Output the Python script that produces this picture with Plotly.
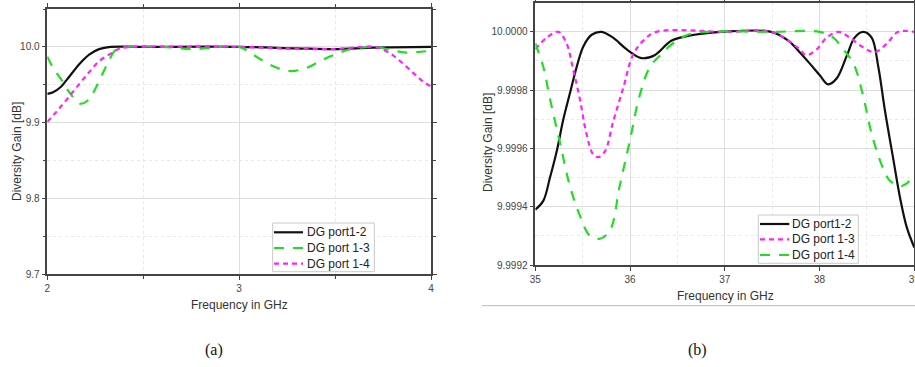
import plotly.graph_objects as go

# ---------------- data: panel (a) ----------------
fa_12 = [2.0, 2.03, 2.07, 2.10, 2.17, 2.22, 2.27, 2.33, 2.5, 3.0, 3.3, 3.5, 3.7, 4.0]
dg_a_12 = [9.938, 9.940, 9.947, 9.956, 9.978, 9.990, 9.997, 10.0, 10.0, 10.0, 9.998, 9.997, 9.999, 10.0]

fa_13 = [2.0, 2.031, 2.075, 2.118, 2.17, 2.214, 2.257, 2.31, 2.36, 2.41, 2.6, 2.76, 2.9, 3.0,
         3.09, 3.18, 3.265, 3.35, 3.42, 3.49, 3.58, 3.70, 3.79, 3.87, 4.0]
dg_a_13 = [9.987, 9.972, 9.956, 9.939, 9.925, 9.930, 9.948, 9.976, 9.997, 10.0, 10.0, 9.997, 10.0, 10.0,
           9.987, 9.974, 9.968, 9.972, 9.981, 9.989, 9.997, 10.0, 9.996, 9.9925, 9.995]

fa_14 = [2.0, 2.05, 2.10, 2.17, 2.22, 2.27, 2.33, 2.38, 2.45, 2.8, 3.0, 3.23, 3.49, 3.70,
         3.77, 3.84, 3.91, 3.96, 4.0]
dg_a_14 = [9.901, 9.915, 9.930, 9.952, 9.967, 9.981, 9.991, 9.998, 10.0, 10.0, 10.0, 9.998, 9.997, 10.0,
           9.994, 9.981, 9.965, 9.954, 9.948]

# ---------------- data: panel (b) ----------------
fb_12 = [35.0, 35.084, 35.155, 35.226, 35.296, 35.366, 35.437, 35.507, 35.595, 35.70, 35.82,
         35.965, 36.12, 36.26, 36.44, 36.68, 36.97, 37.49, 37.67, 37.79, 37.90, 38.005, 38.09,
         38.18, 38.29, 38.37, 38.46, 38.55, 38.62, 38.69, 38.78, 38.85, 38.92, 39.0]
dg_b_12 = [9.99939, 9.99942, 9.99950, 9.99959, 9.99970, 9.99979, 9.99988, 9.99995, 9.99999, 10.0,
           9.99998, 9.99994, 9.99991, 9.99992, 9.99997, 9.99999, 10.0, 10.0, 9.99997, 9.99993,
           9.99989, 9.99985, 9.99982, 9.99984, 9.99992, 9.99998, 10.0, 9.99998, 9.99988, 9.99973,
           9.99956, 9.99943, 9.99933, 9.99926]

fb_13 = [35.0, 35.12, 35.243, 35.33, 35.40, 35.47, 35.54, 35.61, 35.665, 35.735, 35.82, 35.93,
         36.03, 36.14, 36.28, 37.0, 37.49, 37.67, 37.79, 37.86, 37.97, 38.075, 38.2, 38.32,
         38.445, 38.585, 38.71, 38.83, 39.0]
dg_b_13 = [9.99994, 9.99998, 10.0, 9.99996, 9.99987, 9.99977, 9.99965, 9.99958, 9.99957, 9.99959,
           9.99969, 9.99981, 9.99992, 9.99997, 10.0, 10.0, 10.0, 9.99997, 9.99994, 9.99992,
           9.99994, 9.99998, 10.0, 9.99998, 9.99995, 9.99993, 9.99996, 10.0, 10.0]

fb_14 = [35.0, 35.084, 35.155, 35.26, 35.366, 35.47, 35.577, 35.683, 35.79, 35.89, 36.0, 36.10,
         36.21, 36.32, 36.45, 36.61, 36.79, 37.5, 38.0, 38.145, 38.25, 38.36, 38.46, 38.55,
         38.66, 38.74, 38.85, 38.92, 39.0]
dg_b_14 = [9.99996, 9.99988, 9.99977, 9.99962, 9.99947, 9.99937, 9.99930, 9.99929, 9.99932,
           9.99947, 9.99963, 9.99978, 9.99988, 9.99992, 9.99996, 9.99999, 10.0, 10.0, 10.0,
           9.99998, 9.99994, 9.99989, 9.99978, 9.99965, 9.99954, 9.99949, 9.99947, 9.99948,
           9.99951]

names_a = ["DG port1-2", "DG port 1-3", "DG port 1-4"]
names_b = ["DG port1-2", "DG port 1-3", "DG port 1-4"]
ticks_a_x = [2, 3, 4]
ticks_a_y = [9.7, 9.8, 9.9, 10.0]
ticks_b_x = [35, 36, 37, 38, 39]
ticks_b_y = [9.9992, 9.9994, 9.9996, 9.9998, 10.0]
captions = ["(a)", "(b)"]
x_title = "Frequency in GHz"
y_title = "Diversity Gain [dB]"

BLACK = "#111111"
GREEN = "#22dd22"
MAGENTA = "#ff22ff"
DASH_G = "10px,9px"
DASH_M = "5px,4px"
FONT = "Liberation Sans, Arial, sans-serif"

fig = go.Figure()

def add(x, y, name, color, dash, xa, ya):
    fig.add_trace(go.Scatter(
        x=x, y=y, name=name, mode="lines", showlegend=False,
        line=dict(color=color, width=2.2, dash=dash, shape="spline", smoothing=1.0),
        xaxis=xa, yaxis=ya))

styles_a = [(BLACK, "solid"), (GREEN, DASH_G), (MAGENTA, DASH_M)]
styles_b = [(BLACK, "solid"), (MAGENTA, DASH_M), (GREEN, DASH_G)]

add(fa_12, dg_a_12, names_a[0], *styles_a[0], "x", "y")
add(fa_13, dg_a_13, names_a[1], *styles_a[1], "x", "y")
add(fa_14, dg_a_14, names_a[2], *styles_a[2], "x", "y")

add(fb_12, dg_b_12, names_b[0], *styles_b[0], "x2", "y2")
add(fb_13, dg_b_13, names_b[1], *styles_b[1], "x2", "y2")
add(fb_14, dg_b_14, names_b[2], *styles_b[2], "x2", "y2")

W, H = 915, 367

def axis_common():
    return dict(
        showline=True, linecolor="#444444", linewidth=1.5, mirror="ticks",
        ticks="outside", ticklen=4, tickcolor="#444444", tickwidth=1,
        showgrid=True, gridcolor="#dddddd", gridwidth=1,
        zeroline=False, automargin=False,
        tickfont=dict(family=FONT, size=10, color="#444444"),
    )

fig.update_layout(
    width=W, height=H,
    margin=dict(l=0, r=0, t=0, b=0, autoexpand=False),
    paper_bgcolor="white", plot_bgcolor="white",
    showlegend=False,
    xaxis=dict(**axis_common(), domain=[47.3 / W, 431 / W], range=[2, 4],
               tickvals=ticks_a_x, ticktext=[str(v) for v in ticks_a_x],
               minor=dict(dtick=0.5, tick0=2, showgrid=True, gridcolor="#e8e8e8",
                          griddash="dot", ticks="outside", ticklen=3, tickcolor="#444444"),
               anchor="y"),
    yaxis=dict(**axis_common(), domain=[(H - 274) / H, (H - 9) / H], range=[9.7, 10.05],
               tickvals=ticks_a_y, ticktext=["%.1f" % v for v in ticks_a_y],
               minor=dict(dtick=0.05, tick0=9.7, showgrid=True, gridcolor="#e8e8e8",
                          griddash="dot", ticks="outside", ticklen=3, tickcolor="#444444"),
               anchor="x"),
    xaxis2=dict(**axis_common(), domain=[535.3 / W, 914.3 / W], range=[35, 39],
                tickvals=ticks_b_x, ticktext=[str(v) for v in ticks_b_x],
                ticklabeloverflow="allow",
                minor=dict(dtick=0.5, tick0=35, showgrid=True, gridcolor="#e8e8e8",
                           griddash="dot"),
                anchor="y2"),
    yaxis2=dict(**axis_common(), domain=[(H - 265) / H, (H - 2.7) / H], range=[9.9992, 10.0001],
                tickvals=ticks_b_y, ticktext=["%.4f" % v for v in ticks_b_y],
                minor=dict(dtick=0.0001, tick0=9.9992, showgrid=True, gridcolor="#e8e8e8",
                           griddash="dot"),
                anchor="x2"),
)

ann_font = dict(family=FONT, size=12, color="#333333")
def ann(text, x, y, font, angle=0, xanchor="center"):
    fig.add_annotation(text=text, xref="paper", yref="paper", x=x / W, y=(H - y) / H,
                       textangle=angle, showarrow=False, font=font,
                       xanchor=xanchor, yanchor="middle")

ann(y_title, 17, 152, ann_font, -90)
ann(x_title, 239, 305, ann_font)
ann(y_title, 488, 143, ann_font, -90)
ann(x_title, 725, 296, ann_font)

cap_font = dict(family="Liberation Serif, Times New Roman, serif", size=16, color="#111111")
ann(captions[0], 214, 350, cap_font)
ann(captions[1], 697, 350, cap_font)

def px_line(x0, y0, x1, y1, color, width=1, dash="solid"):
    fig.add_shape(type="line", xref="paper", yref="paper",
                  x0=x0 / W, x1=x1 / W, y0=(H - y0) / H, y1=(H - y1) / H,
                  line=dict(color=color, width=width, dash=dash))

# separator line under panel (b)
px_line(482, 305.7, 915, 305.7, "#bbbbbb")

# manual legends (box, line samples, labels)
leg_font = dict(family=FONT, size=12, color="#222222")
def legend_box(x0, y0, x1, y1, sx0, sx1, tx, rows, names, styles):
    fig.add_shape(type="rect", xref="paper", yref="paper",
                  x0=x0 / W, x1=x1 / W, y0=(H - y1) / H, y1=(H - y0) / H,
                  fillcolor="white", line=dict(color="#c8c8c8", width=1), layer="above")
    for ry, nm, (col, dsh) in zip(rows, names, styles):
        px_line(sx0, ry, sx1, ry, col, 2.2, dsh)
        ann(nm, tx, ry, leg_font, xanchor="left")

legend_box(272.7, 223, 374.3, 271.7, 274, 303, 304.5, [232.3, 248, 263.7], names_a, styles_a)
legend_box(758.3, 215, 858.3, 263.3, 760, 789.3, 789.5, [224, 239.3, 255], names_b, styles_b)

fig.write_html("out.html")
